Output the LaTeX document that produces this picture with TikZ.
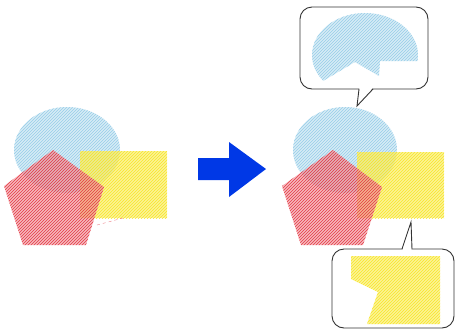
\documentclass[tikz,border=0pt]{standalone}
\usepackage{tikz}
\usetikzlibrary{patterns}
\definecolor{skyblue}{RGB}{150,205,232}
\definecolor{sketchred}{RGB}{228,58,70}
\definecolor{sketchyellow}{RGB}{248,230,40}
\definecolor{arrowblue}{RGB}{0,56,230}

\begin{document}
\begin{tikzpicture}[
    x=1pt, y=-1pt,
    blueshape/.style={fill=skyblue!65, fill opacity=0.6, postaction={pattern=north east lines, pattern color=skyblue}},
    redshape/.style={fill=sketchred!60, fill opacity=0.6, postaction={pattern=north east lines, pattern color=sketchred}},
    yellowshape/.style={fill=sketchyellow!75, fill opacity=0.65, postaction={pattern=north east lines, pattern color=sketchyellow}},
    bubble/.style={draw=black!80, line width=0.9pt, rounded corners=12pt},
    pointer/.style={draw=black!80, line width=0.9pt, line join=miter}
]
\useasboundingbox (0,0) rectangle (455,330);

% before
\path[blueshape] (67,150) ellipse [x radius=53, y radius=43];
\path[yellowshape] (80,151) rectangle (167,218);
\path[redshape] (53,150) -- (104,187) -- (86,245) -- (23,245) -- (4,186) -- cycle;
\draw[sketchred!80, dashed, opacity=0.8] (97,225) -- (123,218);

% arrow
\fill[arrowblue] (198,158) -- (229,158) -- (229,142) -- (266,169) -- (229,197) -- (229,180) -- (198,180) -- cycle;

% after
\path[blueshape] (345,150) ellipse [x radius=52, y radius=43];
\path[yellowshape] (357,152) rectangle (444,218);
\path[redshape] (333,150) -- (382,187) -- (363,245) -- (301,245) -- (282,186) -- cycle;

% upper callout
\draw[bubble] (300,7) rectangle (428,89);
\fill[white] (359.4,87.8) -- (372.6,87.8) -- (357,106) -- cycle;
\draw[pointer] (359,89) -- (357,106) -- (373,89);
\begin{scope}
  \clip (300,0) -- (430,0) -- (430,61) -- (380,61) -- (379,76) -- (355,62) -- (318,84) -- (300,84) -- cycle;
  \path[blueshape] (365,55) ellipse [x radius=53, y radius=42];
\end{scope}

% lower callout
\draw[bubble] (332,249) rectangle (454,328);
\fill[white] (402.4,250.2) -- (411.6,250.2) -- (411,222) -- cycle;
\draw[pointer] (402,249) -- (411,222) -- (412,249);
\path[yellowshape] (351,256) -- (440,256) -- (440,324) -- (367,324) -- (378,292) -- (351,279) -- cycle;

\end{tikzpicture}
\end{document}
